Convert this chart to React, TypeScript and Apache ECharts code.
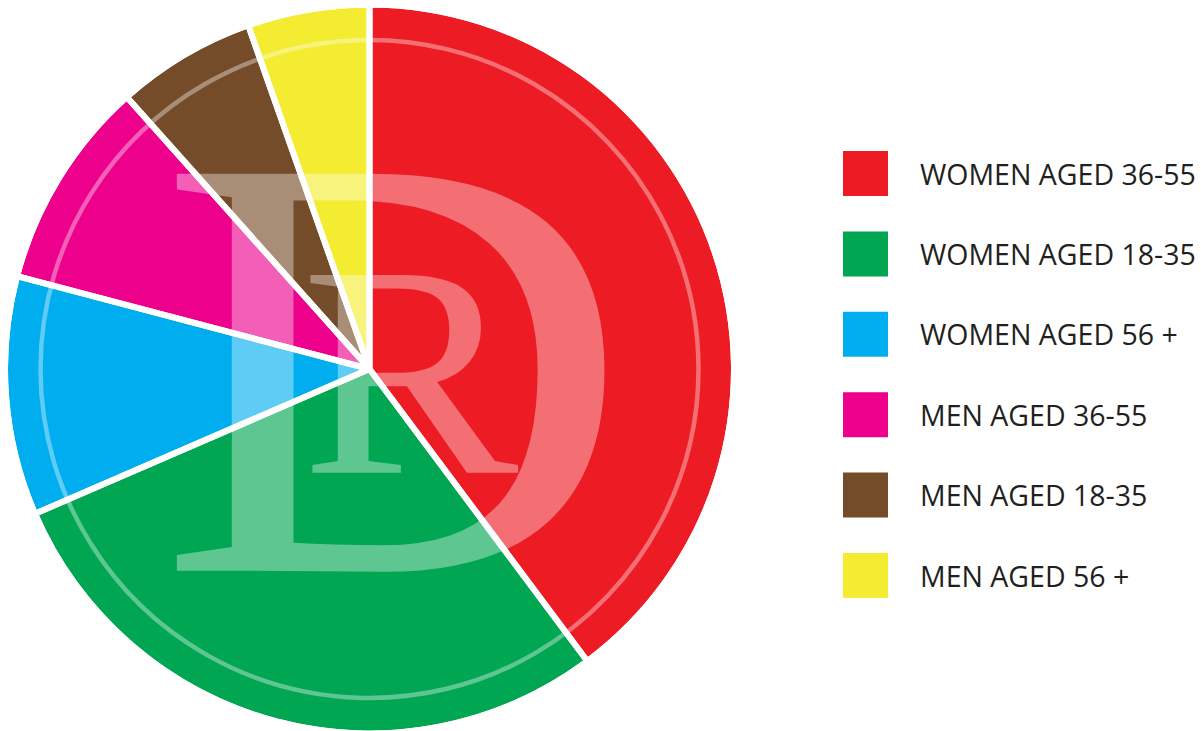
import React, { useEffect, useRef } from "react";
import * as echarts from "echarts";

const categories = [
  "WOMEN AGED 36-55",
  "WOMEN AGED 18-35",
  "WOMEN AGED 56 +",
  "MEN AGED 36-55",
  "MEN AGED 18-35",
  "MEN AGED 56 +",
];
const shares = [39.8, 28.7, 10.6, 9.3, 6.2, 5.4];
const colors = ["#ED1C24", "#00A651", "#00AEEF", "#EC008C", "#754C29", "#F3EC31"];

const CX = 369.5;
const CY = 369;
const R = 361.5;
const WM = "rgba(255,255,255,0.37)";

export default function App() {
  const ref = useRef<HTMLDivElement>(null);
  useEffect(() => {
    if (!ref.current) return;
    const chart = echarts.init(ref.current, null, { renderer: "svg" });
    chart.setOption({
      animation: false,
      backgroundColor: "#ffffff",
      legend: {
        orient: "vertical",
        left: 843,
        top: 151,
        padding: 0,
        itemWidth: 45,
        itemHeight: 45,
        itemGap: 35.4,
        icon: "rect",
        selectedMode: false,
        data: categories,
        textStyle: {
          fontFamily: "'Open Sans', sans-serif",
          fontSize: 28.5,
          color: "#231F20",
          padding: [0, 0, 0, 27],
        },
      },
      graphic: [
        {
          type: "circle",
          z: 5,
          silent: true,
          shape: { cx: CX, cy: CY, r: 329 },
          style: { fill: "none", stroke: WM, lineWidth: 4.5 },
        },
        {
          type: "text",
          z: 5,
          silent: true,
          x: 158,
          y: 366,
          scaleX: 1.08,
          style: {
            text: "D",
            font: "606px 'Liberation Serif', serif",
            fill: WM,
            align: "left",
            verticalAlign: "middle",
          },
        },
        {
          type: "text",
          z: 5,
          silent: true,
          x: 301,
          y: 371,
          scaleX: 1.08,
          style: {
            text: "R",
            font: "302px 'Liberation Serif', serif",
            fill: WM,
            align: "left",
            verticalAlign: "middle",
          },
        },
      ],
      series: [
        {
          type: "pie",
          z: 1,
          silent: true,
          center: [CX, CY],
          radius: [0, R],
          startAngle: 90,
          clockwise: true,
          label: { show: false },
          labelLine: { show: false },
          emphasis: { disabled: true },
          itemStyle: { borderWidth: 0 },
          data: categories.map((name, i) => ({
            name,
            value: shares[i],
            itemStyle: { color: colors[i] },
          })),
        },
        {
          type: "pie",
          z: 10,
          silent: true,
          center: [CX, CY],
          radius: [0, R + 3],
          startAngle: 90,
          clockwise: true,
          label: { show: false },
          labelLine: { show: false },
          emphasis: { disabled: true },
          itemStyle: { color: "rgba(0,0,0,0)", borderColor: "#ffffff", borderWidth: 6 },
          data: shares.map((v) => ({ value: v })),
        },
      ],
    });
    return () => chart.dispose();
  }, []);
  return (
    <div
      ref={ref}
      style={{ position: "fixed", left: 0, top: 0, width: 1201, height: 731 }}
    />
  );
}
